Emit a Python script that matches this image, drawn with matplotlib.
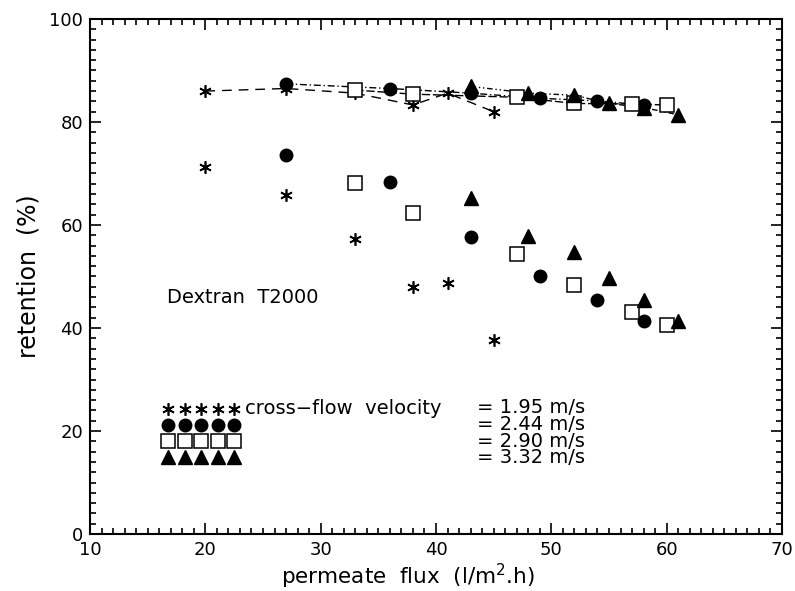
import numpy as np
import matplotlib.pyplot as plt
from matplotlib.ticker import MultipleLocator

# Datos (flujo de permeado, retencion)
# 1.95 m/s  (asteriscos)
flux_a_up = [20, 27, 33, 38, 41, 45]
ret_a_up = [86, 86.5, 85.6, 83.3, 85.6, 82]
flux_a_lo = [20, 27, 33, 38, 41, 45]
ret_a_lo = [71.3, 65.8, 57.2, 48.0, 48.8, 37.7]

# 2.44 m/s  (circulos)
flux_b_up = [27, 36, 43, 49, 54, 58]
ret_b_up = [87.4, 86.5, 85.6, 84.6, 84.1, 83.3]
flux_b_lo = [27, 36, 43, 49, 54, 58]
ret_b_lo = [73.6, 68.4, 57.7, 50.0, 45.4, 41.4]

# 2.90 m/s  (cuadrados)
flux_c_up = [33, 38, 47, 52, 57, 60]
ret_c_up = [86.2, 85.4, 84.8, 83.6, 83.5, 83.3]
flux_c_lo = [33, 38, 47, 52, 57, 60]
ret_c_lo = [68.1, 62.3, 54.4, 48.3, 43.2, 40.6]

# 3.32 m/s  (triangulos)
flux_d_up = [43, 48, 52, 55, 58, 61]
ret_d_up = [86.9, 85.6, 85.2, 83.6, 82.8, 81.4]
flux_d_lo = [43, 48, 52, 55, 58, 61]
ret_d_lo = [65.2, 57.9, 54.8, 49.8, 45.4, 41.4]

velocities = ['1.95', '2.44', '2.90', '3.32']

star = (6, 2, 0)
styles = [
    dict(marker=star, ms=9, mec='black', mew=1.2, mfc='none'),
    dict(marker='o', ms=9, mec='black', mfc='black'),
    dict(marker='s', ms=9.5, mec='black', mfc='white', mew=1.1),
    dict(marker='^', ms=9.5, mec='black', mfc='black'),
]
dashes = [(7, 5), (5, 2, 1, 2), (6, 2), (4, 2, 1, 2, 1, 2)]

fig = plt.figure(figsize=(7.95, 5.91), dpi=100)
ax = fig.add_axes([0.1132, 0.0964, 0.8704, 0.8715])

series = [
    (flux_a_up, ret_a_up, flux_a_lo, ret_a_lo),
    (flux_b_up, ret_b_up, flux_b_lo, ret_b_lo),
    (flux_c_up, ret_c_up, flux_c_lo, ret_c_lo),
    (flux_d_up, ret_d_up, flux_d_lo, ret_d_lo),
]

# Lineas discontinuas de la serie superior
for (xu, yu, xl, yl), d in zip(series, dashes):
    ax.plot(xu, yu, color='black', lw=1.0, dashes=d, zorder=2)

for (xu, yu, xl, yl), st in zip(series, styles):
    ax.plot(xu, yu, ls='none', zorder=3, **st)
    ax.plot(xl, yl, ls='none', zorder=3, **st)

# Leyenda manual
leg_x = np.linspace(16.8, 22.5, 5)
leg_y = [24.3, 21.2, 18.1, 15.0]
for yy, st in zip(leg_y, styles):
    ax.plot(leg_x, [yy] * 5, ls='none', clip_on=False, **st)

fs = 14
ax.text(23.4, leg_y[0], 'cross\u2212flow  velocity', fontsize=fs, va='center', ha='left')
rows = '\n'.join('= ' + v + ' m/s' for v in velocities)
ax.text(43.6, (leg_y[0] + leg_y[-1]) / 2, rows, fontsize=fs, va='center', ha='left',
        linespacing=0.84)

ax.text(16.7, 46, 'Dextran  T2000', fontsize=fs, va='center', ha='left')

ax.set_xlim(10, 70)
ax.set_ylim(0, 100)
ax.xaxis.set_major_locator(MultipleLocator(10))
ax.xaxis.set_minor_locator(MultipleLocator(1))
ax.yaxis.set_major_locator(MultipleLocator(20))
ax.yaxis.set_minor_locator(MultipleLocator(2))
ax.tick_params(which='both', direction='in', top=True, right=True, width=1.2)
ax.tick_params(which='major', length=8, labelsize=13, pad=5)
ax.tick_params(which='minor', length=4)
for s in ax.spines.values():
    s.set_linewidth(1.5)

ax.set_xlabel('permeate  flux  (l/m$^{2}$.h)', fontsize=15.5, labelpad=0)
ax.xaxis.set_label_coords(0.46, -0.053)
ax.set_ylabel('retention  (%)', fontsize=17, labelpad=6)

fig.savefig('out.png', dpi=100)
